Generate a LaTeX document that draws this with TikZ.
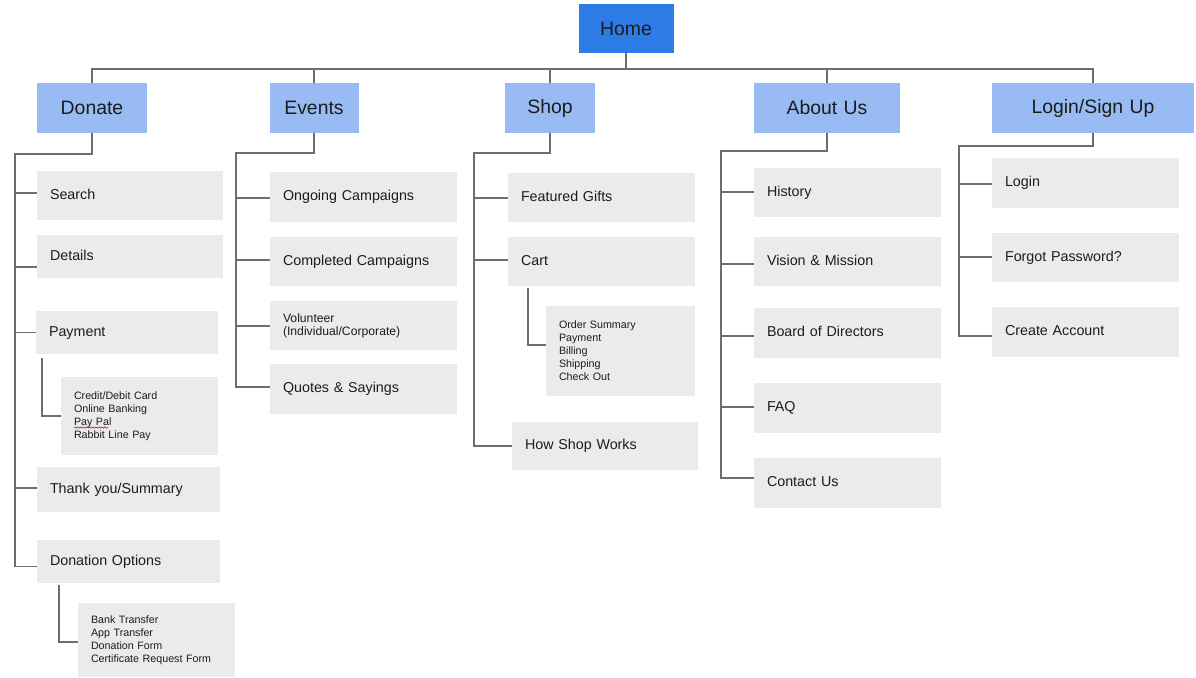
\documentclass[tikz,border=0pt]{standalone}
\usepackage{fontspec}
\setmainfont{Liberation Sans}
\usetikzlibrary{decorations.pathmorphing}
\definecolor{homeblue}{HTML}{2D7BE4}
\definecolor{topblue}{HTML}{97BBF2}
\definecolor{boxgray}{HTML}{EBEBEB}
\definecolor{linegray}{HTML}{6E6E6E}
\definecolor{txtcol}{HTML}{1C1C1C}
\newcommand\bx[7]{%
 \pgfmathsetmacro\bxw{#4-#2}\pgfmathsetmacro\bxh{#5-#3}\pgfmathsetmacro\bxt{#4-#2-26}%
 \node[#1,minimum width=\bxw pt,minimum height=\bxh pt,text width=\bxt pt] (#6) at ({(#2+#4)/2},{(#3+#5)/2}) {#7};}
\newcommand\br[3]{\draw[conn] ([yshift={-1pt*(#3)}]#2.west -| #1) -- ([yshift={-1pt*(#3)}]#2.west);}
\tikzset{
 conn/.style={draw=linegray,line width=1.4pt},
 basebox/.style={inner xsep=13pt,inner ysep=0pt,text=txtcol},
 homebox/.style={basebox,fill=homeblue,align=center,font=\fontsize{19.4}{22}\selectfont},
 topbox/.style={basebox,fill=topblue,align=center,font=\fontsize{19.4}{22}\selectfont},
 itembox/.style={basebox,fill=boxgray,align=left,font=\fontsize{14.3}{17}\selectfont,text height=10.5pt,text depth=3pt},
 volbox/.style={basebox,fill=boxgray,align=left,font=\fontsize{12.2}{13.3}\selectfont},
 smallbox/.style={basebox,fill=boxgray,align=left,font=\fontsize{10.7}{13}\selectfont},
}
\begin{document}
\begin{tikzpicture}[x=1pt,y=-1pt]
\useasboundingbox (0,0) rectangle (1196,677);
% top
\bx{homebox}{578.5}{4}{673.5}{53}{home}{Home}
\bx{topbox}{37}{83}{147}{133}{donate}{Donate}
\bx{topbox}{269.5}{83}{358.5}{133}{events}{Events}
\bx{topbox}{505}{83}{595}{133}{shop}{Shop}
\bx{topbox}{754}{83}{900}{133}{about}{About Us}
\bx{topbox}{992}{83}{1194}{133}{login}{Login/Sign Up}
% donate
\bx{itembox}{37}{171}{223}{220}{search}{Search}
\bx{itembox}{37}{235}{223}{278}{details}{Details}
\bx{itembox}{36}{311}{218}{354}{payment}{Payment}
\bx{smallbox}{61}{377}{218}{455}{paysub}{Credit/Debit Card\\Online Banking\\Pay Pal\\Rabbit Line Pay}
\bx{itembox}{37}{467}{220}{512}{thanks}{Thank you/Summary}
\bx{itembox}{37}{540}{220}{583}{dopt}{Donation Options}
\bx{smallbox}{78}{603}{235}{677}{dosub}{Bank Transfer\\App Transfer\\Donation Form\\Certificate Request Form}
% events
\bx{itembox}{270}{172}{457}{222}{ongoing}{Ongoing Campaigns}
\bx{itembox}{270}{237}{457}{286}{completed}{Completed Campaigns}
\bx{volbox}{270}{301}{457}{350}{volunteer}{Volunteer\\(Individual/Corporate)}
\bx{itembox}{270}{364}{457}{414}{quotes}{Quotes \& Sayings}
% shop
\bx{itembox}{508}{173}{695}{222}{featured}{Featured Gifts}
\bx{itembox}{508}{237}{695}{286}{cart}{Cart}
\bx{smallbox}{546}{306}{695}{396}{cartsub}{Order Summary\\Payment\\Billing\\Shipping\\Check Out}
\bx{itembox}{512}{422}{698}{470}{howshop}{How Shop Works}
% about
\bx{itembox}{754}{168}{941}{217}{history}{History}
\bx{itembox}{754}{237}{941}{286}{vision}{Vision \& Mission}
\bx{itembox}{754}{308}{941}{358}{board}{Board of Directors}
\bx{itembox}{754}{383}{941}{433}{faq}{FAQ}
\bx{itembox}{754}{458}{941}{508}{contact}{Contact Us}
% login
\bx{itembox}{992}{158}{1179}{208}{loginitem}{Login}
\bx{itembox}{992}{233}{1179}{282}{forgot}{Forgot Password?}
\bx{itembox}{992}{307}{1179}{357}{create}{Create Account}
% bus
\coordinate (bus) at (626,69);
\draw[conn] (home.south) -- (bus);
\draw[conn] (donate.north) |- (bus) -| (login.north);
\foreach \n in {events,shop,about} \draw[conn] (\n.north) -- (\n.north |- bus);
% donate tree
\coordinate (dS) at (15,154);
\draw[conn] (donate.south) |- (dS) |- ([yshift=-5pt]dopt.west);
\br{dS}{search}{-2.5}
\br{dS}{details}{10.5}
\br{dS}{payment}{0}
\br{dS}{thanks}{-1.5}
\coordinate (pS) at ([xshift=6pt,yshift=-4pt]payment.south west);
\draw[conn] (pS) |- (paysub.west);
\coordinate (oS) at ([xshift=22pt,yshift=-2pt]dopt.south west);
\draw[conn] (oS) |- ([yshift=-2pt]dosub.west);
% events tree
\coordinate (eS) at (236,153);
\draw[conn] (events.south) |- (eS) |- ([yshift=2pt]quotes.west);
\br{eS}{ongoing}{1}
\br{eS}{completed}{-1.5}
\br{eS}{volunteer}{0.5}
% shop tree
\coordinate (sS) at (474,153);
\draw[conn] (shop.south) |- (sS) |- (howshop.west);
\br{sS}{featured}{0.5}
\br{sS}{cart}{-1.5}
\coordinate (cS) at ([xshift=20pt,yshift=-2pt]cart.south west);
\draw[conn] (cS) |- ([yshift=6pt]cartsub.west);
% about tree
\coordinate (aS) at (721,151);
\draw[conn] (about.south) |- (aS) |- ([yshift=5pt]contact.west);
\br{aS}{history}{-0.5}
\br{aS}{vision}{2.5}
\br{aS}{board}{3}
\br{aS}{faq}{-1}
% login tree
\coordinate (lS) at (959,146);
\draw[conn] (login.south) |- (lS) |- ([yshift=-4pt]create.west);
\br{lS}{loginitem}{1}
\br{lS}{forgot}{-0.5}
% spell-check squiggle under Pay Pal
\draw[red!80!black,line width=0.5pt,decorate,decoration={snake,amplitude=0.7pt,segment length=3pt}] (74,427.5) -- (108,427.5);
\end{tikzpicture}
\end{document}
